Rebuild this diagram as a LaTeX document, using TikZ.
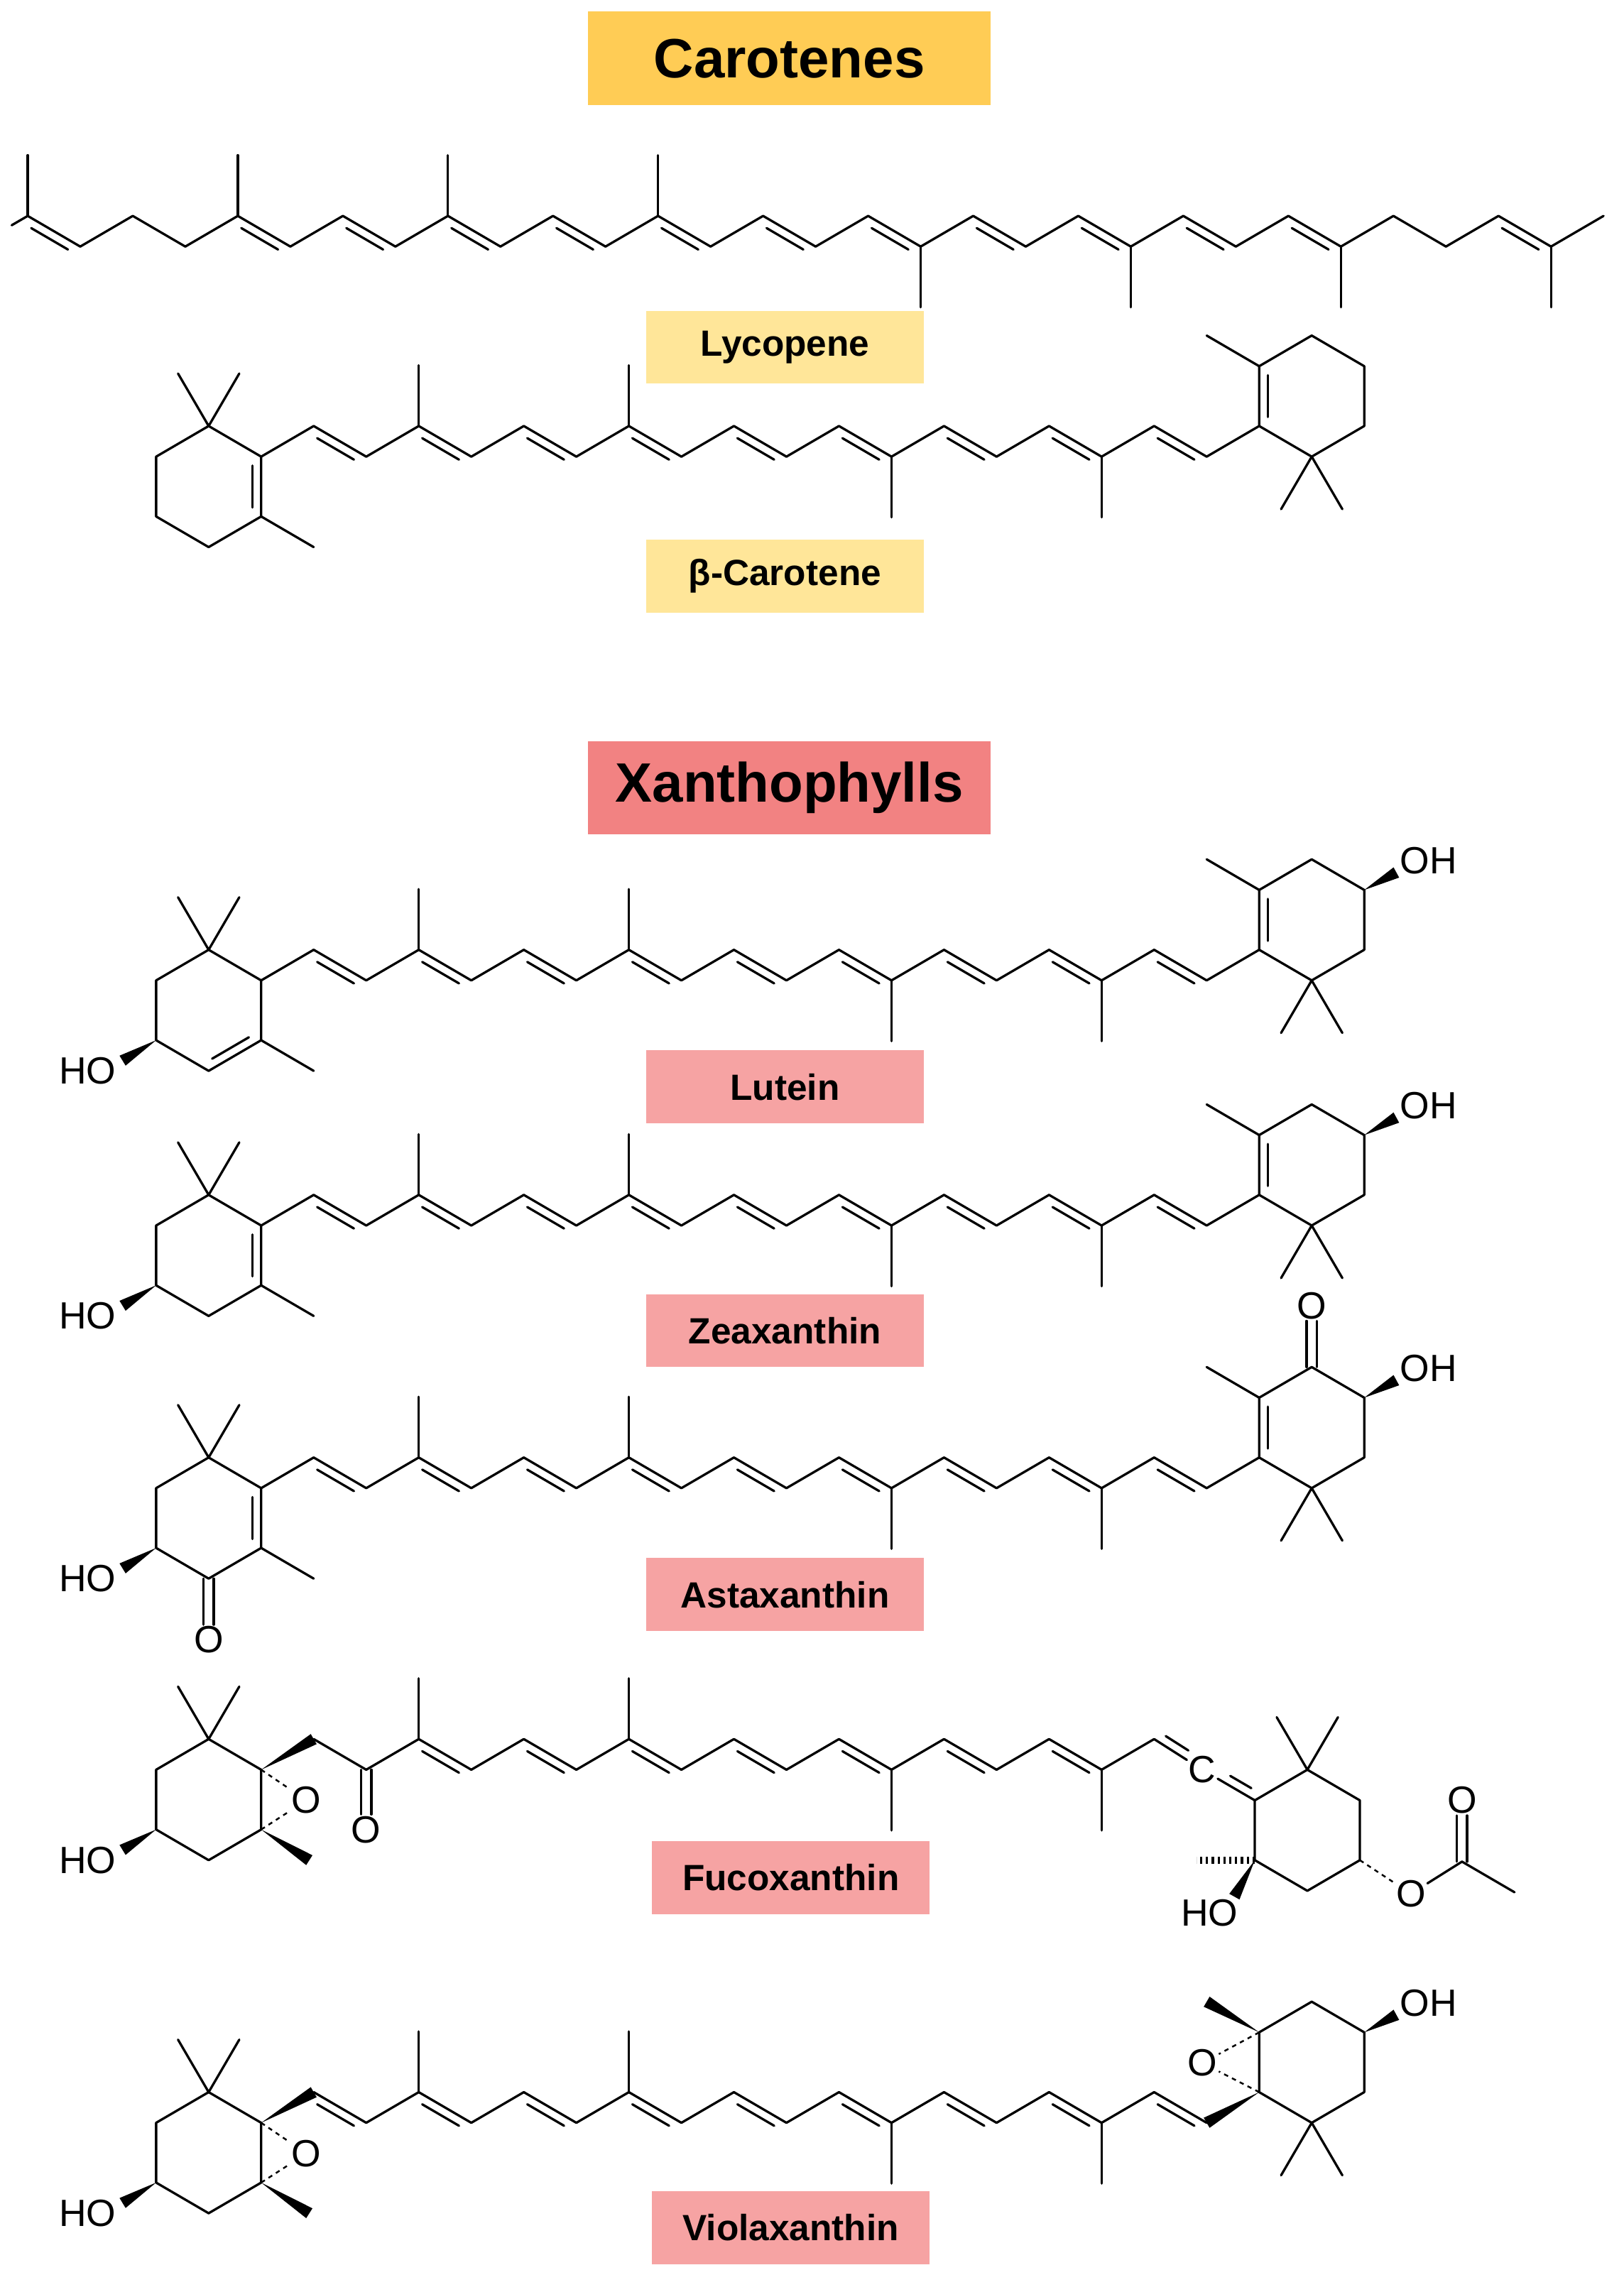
\documentclass[tikz,border=0pt]{standalone}
\usepackage{fontspec}
\setmainfont{Liberation Sans}
\usetikzlibrary{calc}
\definecolor{titleA}{HTML}{FFCC55}
\definecolor{titleB}{HTML}{F28282}
\definecolor{lblA}{HTML}{FFE699}
\definecolor{lblB}{HTML}{F6A3A3}
\tikzset{
 bond/.style={line width=1.6pt,line cap=round,line join=round},
 atom/.style={font=\fontsize{26}{26}\selectfont,inner sep=1pt},
 titlebox/.style={font=\fontsize{38}{38}\selectfont\bfseries,minimum width=276pt,minimum height=64pt,inner sep=0pt},
 lblbox/.style={font=\fontsize{25}{25}\selectfont\bfseries,minimum width=190pt,minimum height=50pt,inner sep=0pt},
 hashed/.style={line width=1.2pt,dash pattern=on 3pt off 3pt},
 widehash/.style={line width=5pt,dash pattern=on 1.6pt off 2.4pt}
}
\newcommand\dbl[2]{%
 \coordinate (dA) at ($(#1)!0.15!(#2)$);\coordinate (dB) at ($(#1)!0.85!(#2)$);
 \draw[bond] ($(dA)!6pt!-90:(dB)$) -- ($(dB)!6pt!90:(dA)$);}
\newcommand\wdg[2]{\fill ($(#1)$) -- ($(#2)!4pt!90:(#1)$) -- ($(#2)!4pt!-90:(#1)$) -- cycle;}
\newcommand\bchain[3]{%
 \foreach \i in {0,...,19}{\pgfmathsetmacro\yy{isodd(\i)?#2:#3}\coordinate (#1\i) at ({179+36*\i},\yy);}
 \foreach \i in {1,...,16}{\pgfmathtruncatemacro\j{\i+1}\draw[bond] (#1\i)--(#1\j);}
 \draw[bond] (#13)--++(0,41.6) (#17)--++(0,41.6) (#112)--++(0,-41.6) (#116)--++(0,-41.6);
 \foreach \i in {3,5,...,15}{\pgfmathtruncatemacro\j{\i+1}\dbl{#1\i}{#1\j}}}
\newcommand\lring[2]{%
 \coordinate (#1a) at (143,#2);\coordinate (#1b) at (107,#2-21);\coordinate (#1c) at (107,#2-62);
 \coordinate (#1d) at (143,#2-83);\coordinate (#1e) at (179,#2-62);\coordinate (#1f) at (179,#2-21);
 \draw[bond] (#1a)--(#1b)--(#1c)--(#1d)--(#1e)--(#1f)--cycle;
 \draw[bond] (#1a)--++(-21,36) (#1a)--++(21,36);}
\newcommand\rring[2]{%
 \coordinate (#1f) at (863,#2);\coordinate (#1e) at (863,#2+41);\coordinate (#1d) at (899,#2+62);
 \coordinate (#1c) at (935,#2+41);\coordinate (#1b) at (935,#2);\coordinate (#1a) at (899,#2-21);
 \draw[bond] (#1a)--(#1b)--(#1c)--(#1d)--(#1e)--(#1f)--cycle;
 \draw[bond] (#1a)--++(-21,-36) (#1a)--++(21,-36);}
\newcommand\leftHO[2]{\node[atom] (#1ho) at (60,#2-83) {HO};\coordinate (#1hw) at (84,#2-76);\wdg{#1lc}{#1hw}}
\newcommand\rightOH[2]{\node[atom] (#1oh) at (979,#2+61) {OH};\coordinate (#1ow) at (957,#2+53);\wdg{#1rc}{#1ow}}
\begin{document}
\begin{tikzpicture}[x=1pt,y=1pt]
\useasboundingbox (0,0) rectangle (1113,-1571);
% titles
\node[titlebox,fill=titleA] (tcar) at (541,-40) {Carotenes};
\node[titlebox,fill=titleB] (txan) at (541,-540) {Xanthophylls};
\node[lblbox,fill=lblA] (nlyc) at (538,-238) {Lycopene};
\node[lblbox,fill=lblA] (nbeta) at (538,-395) {β-Carotene};
\node[lblbox,fill=lblB] (nlut) at (538,-745) {Lutein};
\node[lblbox,fill=lblB] (nzea) at (538,-912) {Zeaxanthin};
\node[lblbox,fill=lblB] (nast) at (538,-1093) {Astaxanthin};
\node[lblbox,fill=lblB] (nfuc) at (542,-1287) {Fucoxanthin};
\node[lblbox,fill=lblB] (nvio) at (542,-1527) {Violaxanthin};
% ---------------- lycopene
\foreach \i in {0,...,30}{\pgfmathsetmacro\yy{isodd(\i)?-169:-148}\coordinate (Y\i) at ({19+36*\i},\yy);}
\foreach \i in {0,...,29}{\pgfmathtruncatemacro\j{\i+1}\draw[bond] (Y\i)--(Y\j);}
\coordinate (Yst) at (8,-154.4);
\draw[bond] (Y0)--(Yst);
\draw[bond] (Y0)--++(0,41.6) (Y4)--++(0,41.6) (Y8)--++(0,41.6) (Y12)--++(0,41.6)
 (Y17)--++(0,-41.6) (Y21)--++(0,-41.6) (Y25)--++(0,-41.6) (Y29)--++(0,-41.6);
\foreach \i in {0,4,6,8,10,12,14,16,18,20,22,24,28}{\pgfmathtruncatemacro\j{\i+1}\dbl{Y\i}{Y\j}}
% ---------------- beta-carotene
\bchain{B}{-292}{-313}
\lring{Bl}{-292}\rring{Br}{-292}
\draw[bond] (B0)--(B1) (B17)--(B18)--(B19);
\dbl{B1}{B2}\dbl{B17}{B18}\dbl{Blf}{Ble}\dbl{Brf}{Bre}
\draw[bond] (Ble)--++(36,-21) (Bre)--++(-36,21);
% ---------------- lutein
\bchain{L}{-651}{-672}
\lring{Ll}{-651}\rring{Lr}{-651}
\draw[bond] (L0)--(L1) (L17)--(L18)--(L19);
\dbl{L1}{L2}\dbl{L17}{L18}\dbl{Lle}{Lld}\dbl{Lrf}{Lre}
\draw[bond] (Lle)--++(36,-21) (Lre)--++(-36,21);
\leftHO{L}{-651}\rightOH{L}{-651}
% ---------------- zeaxanthin
\bchain{Z}{-819}{-840}
\lring{Zl}{-819}\rring{Zr}{-819}
\draw[bond] (Z0)--(Z1) (Z17)--(Z18)--(Z19);
\dbl{Z1}{Z2}\dbl{Z17}{Z18}\dbl{Zlf}{Zle}\dbl{Zrf}{Zre}
\draw[bond] (Zle)--++(36,-21) (Zre)--++(-36,21);
\leftHO{Z}{-819}\rightOH{Z}{-819}
% ---------------- astaxanthin
\bchain{A}{-999}{-1020}
\lring{Al}{-999}\rring{Ar}{-999}
\draw[bond] (A0)--(A1) (A17)--(A18)--(A19);
\dbl{A1}{A2}\dbl{A17}{A18}\dbl{Alf}{Ale}\dbl{Arf}{Are}
\draw[bond] (Ale)--++(36,-21) (Are)--++(-36,21);
\leftHO{A}{-999}\rightOH{A}{-999}
\node[atom] (Ao1) at (143,-1124) {O};
\node[atom] (Ao2) at (899,-895) {O};
\draw[bond] ($(Ald)+(-3.5,0)$)--($(Ao1.north)+(-3.5,0)$) ($(Ald)+(3.5,0)$)--($(Ao1.north)+(3.5,0)$);
\draw[bond] ($(Ard)+(-3.5,0)$)--($(Ao2.south)+(-3.5,0)$) ($(Ard)+(3.5,0)$)--($(Ao2.south)+(3.5,0)$);
% ---------------- fucoxanthin
\bchain{F}{-1192}{-1213}
\lring{Fl}{-1192}
\wdg{F0}{F1}
\node[atom] (Fo1) at (251,-1254) {O};
\draw[bond] ($(F2)+(-3.5,0)$)--($(Fo1.north)+(-3.5,0)$) ($(F2)+(3.5,0)$)--($(Fo1.north)+(3.5,0)$);
\node[atom] (Fep) at (210,-1234) {O};
\draw[hashed] (Flf)--(Fep) (Fle)--(Fep);
\coordinate (Fme) at (212,-1275);\wdg{Fle}{Fme}
\leftHO{F}{-1192}
% allene
\coordinate (Fc) at (824,-1213);
\node[atom,fill=white] (Fcn) at (Fc) {C};
\coordinate (Fr6) at (860,-1234);\coordinate (Fr1) at (896,-1213);\coordinate (Fr2) at (932,-1234);
\coordinate (Fr3) at (932,-1275);\coordinate (Fr4) at (896,-1296);\coordinate (Fr5) at (860,-1275);
\draw[bond] (F17)--(Fcn) (Fcn)--(Fr6);
\draw[bond] ($(F17)!0.15!(Fc)+(3,5.2)$)--($(F17)!0.62!(Fc)+(3,5.2)$);
\draw[bond] ($(Fc)!0.45!(Fr6)+(3,5.2)$)--($(Fc)!0.85!(Fr6)+(3,5.2)$);
\draw[bond] (Fr6)--(Fr1)--(Fr2)--(Fr3)--(Fr4)--(Fr5)--cycle;
\draw[bond] (Fr1)--++(-21,36) (Fr1)--++(21,36);
\coordinate (Fhm) at (820,-1275);\draw[widehash] (Fr5)--(Fhm);
\node[atom] (Fho2) at (829,-1311) {HO};
\coordinate (Fhw) at (846,-1300);\wdg{Fr5}{Fhw}
\node[atom] (Feo) at (967,-1298) {O};
\draw[hashed] (Fr3)--(Feo);
\coordinate (Fac) at (1002,-1276);
\node[atom] (Fao) at (1002,-1234) {O};
\coordinate (Fam) at (1038,-1297);
\draw[bond] (Feo)--(Fac)--(Fam);
\draw[bond] ($(Fac)+(-3.5,0)$)--($(Fao.south)+(-3.5,0)$) ($(Fac)+(3.5,0)$)--($(Fao.south)+(3.5,0)$);
% ---------------- violaxanthin
\bchain{V}{-1434}{-1455}
\lring{Vl}{-1434}\rring{Vr}{-1434}
\wdg{V0}{V1}
\draw[bond] (V17)--(V18);\dbl{V1}{V2}\dbl{V17}{V18}
\wdg{V19}{V18}
\node[atom] (Vep1) at (210,-1476) {O};
\draw[hashed] (Vlf)--(Vep1) (Vle)--(Vep1);
\coordinate (Vme1) at (212,-1517);\wdg{Vle}{Vme1}
\node[atom] (Vep2) at (824,-1414) {O};
\draw[hashed] (Vrf)--(Vep2) (Vre)--(Vep2);
\coordinate (Vme2) at (827,-1372);\wdg{Vre}{Vme2}
\leftHO{V}{-1434}\rightOH{V}{-1434}
\end{tikzpicture}
\end{document}
